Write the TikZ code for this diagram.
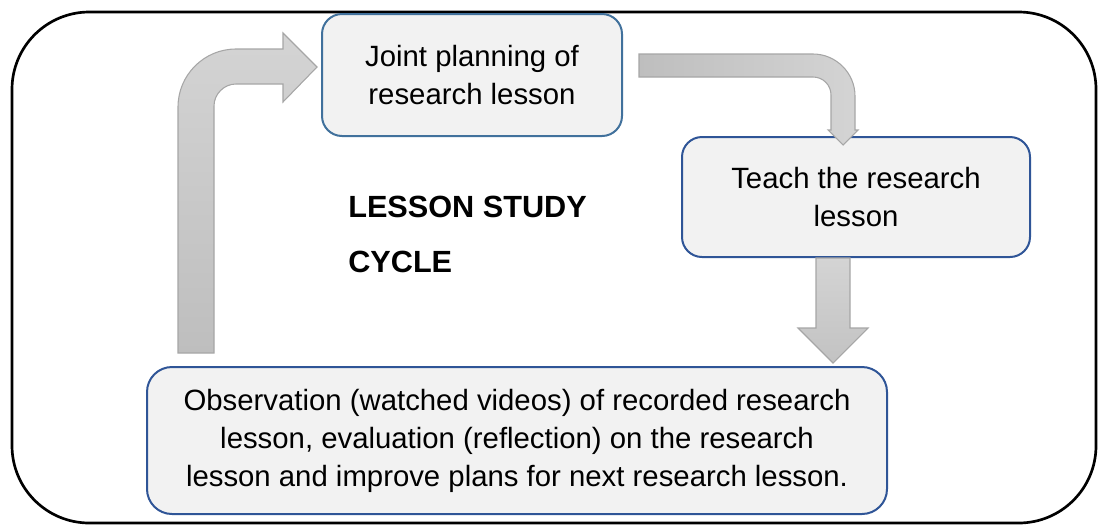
\documentclass[tikz,border=0pt]{standalone}
\usepackage{fontspec}
\setmainfont{Liberation Sans}
\usetikzlibrary{positioning, calc}
\definecolor{boxfill}{HTML}{F2F2F2}
\definecolor{boxline}{HTML}{41719C}
\definecolor{boxlinedk}{HTML}{2F5597}
\definecolor{arrline}{HTML}{A6A6A6}
\definecolor{arrdark}{HTML}{BEBEBE}
\definecolor{arrlight}{HTML}{D4D4D4}

\begin{document}
\begin{tikzpicture}[
  x=0.75pt, y=-0.75pt,
  stagebox/.style={draw=boxlinedk, fill=boxfill, line width=1.5pt, rounded corners=15pt,
    align=center, inner sep=0pt, font=\fontsize{22}{28.5}\selectfont},
  blockarr/.style={draw=arrline, line width=0.8pt, line join=miter}
  ]
  \useasboundingbox (0,0) rectangle (1098,526);
  % frame
  \draw[line width=2pt, rounded corners=58pt] (12,12) rectangle (1096,523);

  % stages
  \node[stagebox, draw=boxline, minimum width=225pt, minimum height=91.5pt] (plan) at (472,75)
    {Joint planning of\\research lesson};
  \node[stagebox, minimum width=261pt, minimum height=90pt] (teach) at (856,197)
    {Teach the research\\lesson};
  \node[stagebox, rounded corners=18.75pt, minimum width=555pt, minimum height=110.25pt] (observe) at (517,440.5)
    {Observation (watched videos) of recorded research\\lesson, evaluation (reflection) on the research\\lesson and improve plans for next research lesson.};
  \node[anchor=base west, align=left, inner sep=0pt, font=\bfseries\fontsize{23}{41.25}\selectfont] (title) at (348,272)
    {LESSON STUDY\\CYCLE};

  % arrows between stages
  \draw[blockarr, top color=arrlight, bottom color=arrdark]
    (178,353) -- (178,107) .. controls (178,75) and (204,49) .. (236,49) -- (283,49) -- (283,33)
    -- (317,67) -- (283,102) -- (283,84) -- (236,84) .. controls (224,84) and (214,94) .. (214,106)
    -- (214,353) -- cycle;
  \draw[blockarr, left color=arrdark, right color=arrlight]
    (639,54) -- (813,54) .. controls (836,54) and (855,73) .. (855,96) -- (855,130) -- (858,130)
    -- (843,145) -- (828,130) -- (831,130) -- (831,95) .. controls (831,85) and (823,77) .. (813,77)
    -- (639,77) -- cycle;
  \draw[blockarr, top color=arrlight, bottom color=arrdark!80!arrlight]
    (816,258) -- (850,258) -- (850,328) -- (868,328) -- (833,363) -- (798,328) -- (816,328) -- cycle;
\end{tikzpicture}
\end{document}
